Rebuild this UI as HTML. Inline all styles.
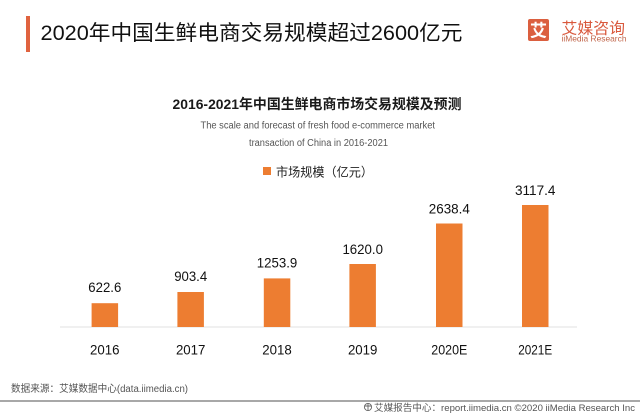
<!DOCTYPE html>
<html>
<head>
<meta charset="utf-8">
<style>
  html,body{margin:0;padding:0;background:#ffffff;}
  svg{display:block;}
  text{font-family:"Liberation Sans","Noto Sans CJK SC",sans-serif;}
</style>
</head>
<body>
<svg width="640" height="416" viewBox="0 0 640 416" xmlns="http://www.w3.org/2000/svg">
  <rect x="0" y="0" width="640" height="416" fill="#ffffff"/>

  <!-- header bar + title -->
  <rect x="26" y="16" width="4" height="36" fill="#E0633F"/>
  <text x="40.5" y="40" font-size="21" fill="#111" textLength="422" lengthAdjust="spacingAndGlyphs">2020年中国生鲜电商交易规模超过2600亿元</text>

  <!-- logo -->
  <rect x="528" y="19" width="21" height="22" rx="2" fill="#DB5F3F"/>
  <text x="538.5" y="36.5" font-size="17" font-weight="bold" fill="#ffffff" text-anchor="middle">艾</text>
  <text x="561.5" y="33.5" font-size="15.5" fill="#D9583C" textLength="63.5" lengthAdjust="spacingAndGlyphs">艾媒咨询</text>
  <text x="561.5" y="41.5" font-size="8.5" fill="#C0654A" textLength="65" lengthAdjust="spacingAndGlyphs">iiMedia Research</text>

  <!-- chart title -->
  <text x="172.5" y="109" font-size="14" font-weight="bold" fill="#1a1a1a" textLength="289" lengthAdjust="spacingAndGlyphs">2016-2021年中国生鲜电商市场交易规模及预测</text>
  <text x="200.5" y="128.5" font-size="10" fill="#555" textLength="234.5" lengthAdjust="spacingAndGlyphs">The scale and forecast of fresh food e-commerce market</text>
  <text x="249" y="146" font-size="10" fill="#555" textLength="139" lengthAdjust="spacingAndGlyphs">transaction of China in 2016-2021</text>

  <!-- legend -->
  <rect x="263" y="167" width="8" height="8" fill="#ED7D31"/>
  <text x="276" y="176.5" font-size="12.5" fill="#222" textLength="97" lengthAdjust="spacingAndGlyphs">市场规模（亿元）</text>

  <!-- axis line -->
  <line x1="60" y1="327" x2="577" y2="327" stroke="#e2e2e2" stroke-width="1"/>

  <!-- bars -->
  <g fill="#ED7D31">
    <rect x="91.6" y="303.2" width="26.5" height="23.8"/>
    <rect x="177.4" y="292" width="26.5" height="35"/>
    <rect x="263.8" y="278.4" width="26.5" height="48.6"/>
    <rect x="349.4" y="264" width="26.5" height="63"/>
    <rect x="436" y="223.5" width="26.5" height="103.5"/>
    <rect x="522" y="205" width="26.5" height="122"/>
  </g>

  <!-- value labels -->
  <g font-size="14" fill="#111" text-anchor="middle">
    <text x="104.8" y="291.8" textLength="33" lengthAdjust="spacingAndGlyphs">622.6</text>
    <text x="190.7" y="281.2" textLength="33" lengthAdjust="spacingAndGlyphs">903.4</text>
    <text x="277" y="267.5" textLength="40.5" lengthAdjust="spacingAndGlyphs">1253.9</text>
    <text x="362.7" y="253.8" textLength="40.5" lengthAdjust="spacingAndGlyphs">1620.0</text>
    <text x="449.3" y="213.5" textLength="41" lengthAdjust="spacingAndGlyphs">2638.4</text>
    <text x="535.2" y="195" textLength="40.5" lengthAdjust="spacingAndGlyphs">3117.4</text>
  </g>

  <!-- category labels -->
  <g font-size="14" fill="#111" text-anchor="middle">
    <text x="104.8" y="354.5" textLength="29.5" lengthAdjust="spacingAndGlyphs">2016</text>
    <text x="190.7" y="354.5" textLength="29.5" lengthAdjust="spacingAndGlyphs">2017</text>
    <text x="277" y="354.5" textLength="29.5" lengthAdjust="spacingAndGlyphs">2018</text>
    <text x="362.7" y="354.5" textLength="29.5" lengthAdjust="spacingAndGlyphs">2019</text>
    <text x="449.3" y="354.5" textLength="36" lengthAdjust="spacingAndGlyphs">2020E</text>
    <text x="535.2" y="354.5" textLength="34" lengthAdjust="spacingAndGlyphs">2021E</text>
  </g>

  <!-- source -->
  <text x="11" y="392" font-size="10" fill="#555" textLength="177" lengthAdjust="spacingAndGlyphs">数据来源：艾媒数据中心(data.iimedia.cn)</text>

  <!-- separator -->
  <line x1="0" y1="401" x2="640" y2="401" stroke="#8c8c8c" stroke-width="1.5"/>

  <!-- footer -->
  <g stroke="#666" stroke-width="0.9" fill="none">
    <circle cx="368" cy="407" r="3.6"/>
    <path d="M364.6 406 h6.8 M368 403.4 v7.2"/>
  </g>
  <text x="374" y="411" font-size="9.5" fill="#555" textLength="261" lengthAdjust="spacingAndGlyphs">艾媒报告中心：report.iimedia.cn  ©2020  iiMedia Research Inc</text>
</svg>
</body>
</html>
